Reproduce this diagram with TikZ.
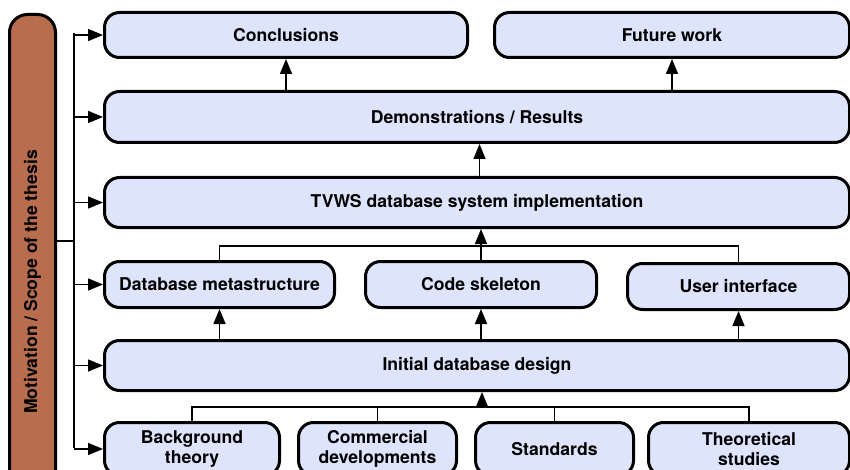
\documentclass[tikz,border=0pt]{standalone}
\usepackage{fontspec}
\setmainfont{TeX Gyre Heros}
\usetikzlibrary{arrows.meta}
\definecolor{boxfill}{HTML}{DDE4FC}
\definecolor{barfill}{HTML}{B86D4E}
\tikzset{
  box/.style={draw=black, line width=3pt, fill=boxfill, rounded corners=15pt,
    anchor=north west, align=center, inner sep=0pt,
    font=\fontsize{17.6}{20.5}\selectfont\bfseries},
  link/.style={draw=black, line width=1.5pt},
  arr/.style={link, -{Triangle[length=15pt,width=12pt]}},
}
\begin{document}
\begin{tikzpicture}[x=1pt,y=-1pt]
\useasboundingbox (0,0) rectangle (850,470);
\begin{scope}
\clip (0,0) rectangle (850,470);
% side bar
\node[box, fill=barfill, rounded corners=18pt, minimum width=46pt, minimum height=535pt] (bar) at (8,13) {};
\node[rotate=90, font=\fontsize{17.6}{20.5}\selectfont\bfseries] at (bar.center) {Motivation / Scope of the thesis};
% boxes, top to bottom
\node[box, minimum width=363pt, minimum height=45pt] (concl) at (103,11) {Conclusions};
\node[box, minimum width=355pt, minimum height=45pt] (future) at (493,11) {Future work};
\node[box, minimum width=745pt, minimum height=51pt] (demo) at (103,90) {Demonstrations / Results};
\node[box, minimum width=745pt, minimum height=50pt] (tvws) at (103,176) {TVWS database system implementation};
\node[box, minimum width=230pt, minimum height=46pt] (meta) at (103,260) {Database metastructure};
\node[box, minimum width=231pt, minimum height=46pt] (code) at (364,260) {Code skeleton};
\node[box, minimum width=222pt, minimum height=46pt] (ui) at (626,262) {User interface};
\node[box, minimum width=745pt, minimum height=50pt] (init) at (103,339) {Initial database design};
\node[box, minimum width=175pt, minimum height=53pt] (bg) at (103,421) {Background\\theory};
\node[box, minimum width=158pt, minimum height=53pt] (comm) at (297,421) {Commercial\\developments};
\node[box, minimum width=158pt, minimum height=53pt] (std) at (474,421) {Standards};
\node[box, minimum width=201pt, minimum height=53pt] (theo) at (647,421) {Theoretical\\studies};
\end{scope}
% left distribution bus
\coordinate (lbtop) at (74,33.5);
\coordinate (lbbot) at (74,447.5);
\coordinate (barjoin) at (74,241);
\draw[link] (lbtop) -- (lbbot);
\draw[link] (bar.east |- barjoin) -- (barjoin);
\foreach \b in {concl,demo,tvws,meta,init,bg}
  \draw[arr] (\b.west -| lbtop) -- (\b.west);
% bottom row into initial design
\coordinate (bbus) at (482,407);
\draw[link] (bg.north) |- (bbus) -| (theo.north);
\draw[link] (comm.north) -- (comm.north |- bbus);
\draw[link] (std.north) -- (std.north |- bbus);
\draw[arr] (bbus) -- (bbus |- init.south);
% initial design into middle row
\draw[arr] (init.north -| meta.south) -- (meta.south);
\draw[arr] (init.north -| code.south) -- (code.south);
\draw[arr] (init.north -| ui.south) -- (ui.south);
% middle row into implementation
\coordinate (mbus) at (479.5,246);
\draw[link] (meta.north) |- (mbus) -| (ui.north);
\draw[arr] (code.north) -- (tvws.south -| code.north);
% upward flow
\draw[arr] (tvws.north -| mbus) -- (demo.south -| mbus);
\draw[arr] (demo.north -| concl.south) -- (concl.south);
\draw[arr] (demo.north -| future.south) -- (future.south);
\end{tikzpicture}
\end{document}
